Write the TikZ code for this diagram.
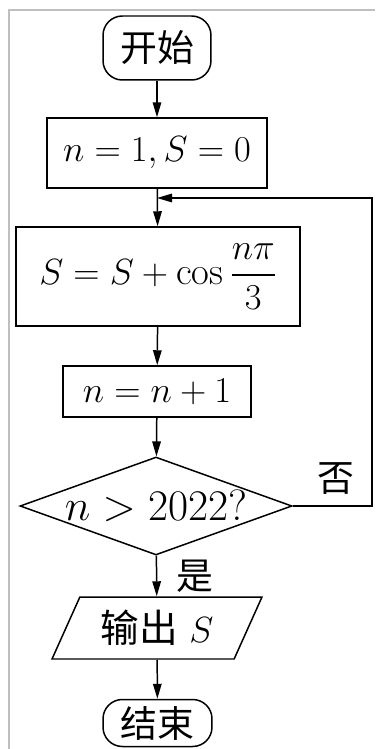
\documentclass[tikz,border=0pt]{standalone}
\usepackage{amsmath}
\usepackage{fontspec}
\newfontfamily\cjk{Noto Sans CJK SC}
\usetikzlibrary{shapes.geometric, arrows.meta}
\tikzstyle{terminal}=[rectangle, rounded corners=11pt, draw, line width=0.85pt,
  minimum width=2.16cm, inner sep=0pt, font=\fontsize{21}{25}\selectfont\cjk]
\tikzstyle{process}=[rectangle, draw, line width=0.85pt, inner sep=0pt,
  font=\fontsize{22}{26}\selectfont]
\tikzstyle{decision}=[diamond, aspect=2.78, draw, line width=0.85pt, inner sep=0pt,
  minimum width=5.44cm, minimum height=1.96cm, font=\fontsize{24}{28}\selectfont]
\tikzstyle{io}=[trapezium, trapezium left angle=52, trapezium right angle=128,
  trapezium stretches body=true, draw, line width=0.85pt, inner sep=0pt,
  minimum width=4.2cm, minimum height=1.24cm, font=\fontsize{22}{26}\selectfont]
\tikzstyle{arrow}=[-{Triangle[length=0.3cm, width=0.17cm]}, line width=0.85pt]
\tikzstyle{lbl}=[font=\fontsize{21}{25}\selectfont\cjk, inner sep=0pt]

\begin{document}
\begin{tikzpicture}[x=0.02cm, y=-0.02cm]
  \useasboundingbox (0,0) rectangle (375,749);
  \draw[black!25, line width=0.6pt] (9,749) -- (9,10) -- (375,10);
  \node[terminal, minimum height=1.28cm] (start) at (157,48) {开始};
  \node[process, minimum width=4.4cm, minimum height=1.4cm] (init) at (157,153) {$n=1,S=0$};
  \node[process, minimum width=5.68cm, minimum height=1.98cm] (body) at (158,276.5)
    {$S=S+\cos\dfrac{n\pi}{3}$};
  \node[process, minimum width=3.76cm, minimum height=1.02cm] (incr) at (157,391.5) {$n=n+1$};
  \node[decision] (cond) at (156,506) {$n>2022?$};
  \node[io] (out) at (157,628) {{\cjk 输出} $S$};
  \node[terminal, minimum height=0.94cm, minimum width=2.18cm] (stop) at (157.5,723) {结束};
  \coordinate (join) at (157,198);
  \coordinate (rt) at (372,506);
  \draw[arrow] (start) -- (init);
  \draw[arrow] (init) -- (body);
  \draw[arrow] (body) -- (incr);
  \draw[arrow] (incr) -- (cond);
  \draw[arrow] (cond) -- (out);
  \draw[arrow] (out) -- (stop);
  \draw[arrow] (cond.east) -- (rt) |- (join);
  \node[lbl] (no) at (336,479) {否};
  \node[lbl] (yes) at (195,576) {是};
\end{tikzpicture}
\end{document}
